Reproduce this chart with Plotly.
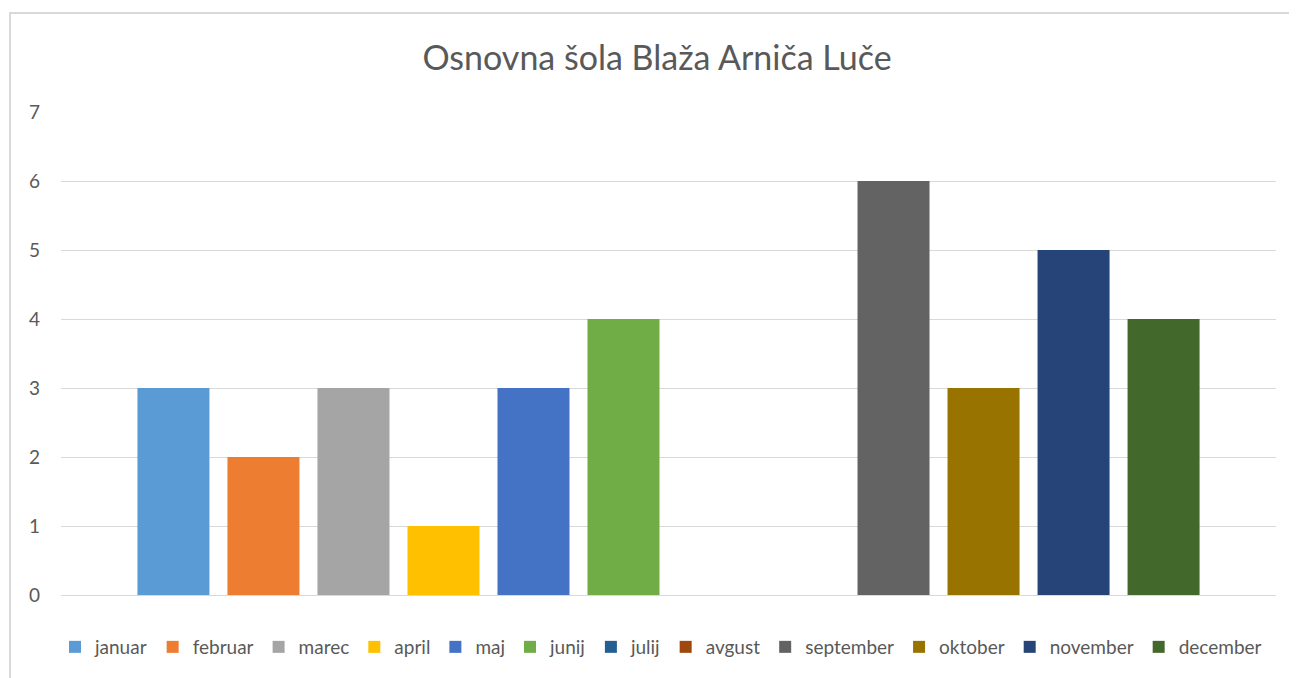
import plotly.graph_objects as go

months = ["januar", "februar", "marec", "april", "maj", "junij", "julij",
          "avgust", "september", "oktober", "november", "december"]
values = [3, 2, 3, 1, 3, 4, 0, 0, 6, 3, 5, 4]
colors = ["#5B9BD5", "#ED7D31", "#A5A5A5", "#FFC000", "#4472C4", "#70AD47",
          "#255E91", "#9E480E", "#636363", "#997300", "#264478", "#43682B"]
category = ["Osnovna šola"]
title = "Osnovna šola Blaža Arniča Luče"

FONT = "Lato, 'Open Sans', sans-serif"

fig = go.Figure()
for m, v, c in zip(months, values, colors):
    fig.add_trace(go.Bar(x=category, y=[v], name=m, marker=dict(color=c, line=dict(width=0))))

# page body has an 8px margin; compensate so screen positions match
OFF = 8
W, H = 1297, 678
L = 61 - OFF
T = 112 - OFF
R = W - (1276 - OFF)
B = H - (595 - OFF)
pw, ph = W - L - R, H - T - B

def px2x(px):
    return (px - OFF - L) / pw

def py2y(py):
    return (H - B - (py - OFF)) / ph

fig.update_layout(
    width=W, height=H,
    margin=dict(l=L, r=R, t=T, b=B, pad=0),
    paper_bgcolor="white", plot_bgcolor="white",
    barmode="group", bargap=0.111, bargroupgap=0.2,
    title=dict(text=title, x=(657 - OFF) / W, xref="container", xanchor="center",
               y=1 - (58 - OFF) / H, yref="container", yanchor="middle",
               font=dict(family=FONT, size=34, color="#595959")),
    font=dict(family=FONT, color="#595959"),
    showlegend=True,
    legend=dict(orientation="h", x=px2x(661), xanchor="center", y=py2y(647), yanchor="middle",
                font=dict(family=FONT, size=19, color="#595959"),
                itemwidth=30, tracegroupgap=0, traceorder="normal"),
    xaxis=dict(showticklabels=False, showgrid=False, zeroline=False, showline=False, ticks=""),
    yaxis=dict(range=[0, 7], dtick=1, showgrid=True, gridcolor="#D9D9D9", gridwidth=1,
               zeroline=True, zerolinecolor="#D9D9D9", zerolinewidth=1,
               showline=False, ticks="", ticklabelstandoff=20,
               tickfont=dict(family=FONT, size=19, color="#595959")),
    shapes=[dict(type="rect", xref="paper", yref="paper",
                 x0=px2x(10), x1=px2x(1320), y0=py2y(720), y1=py2y(13),
                 line=dict(color="#D9D9D9", width=2), fillcolor="rgba(0,0,0,0)", layer="below")],
)

fig.write_html("out.html")
